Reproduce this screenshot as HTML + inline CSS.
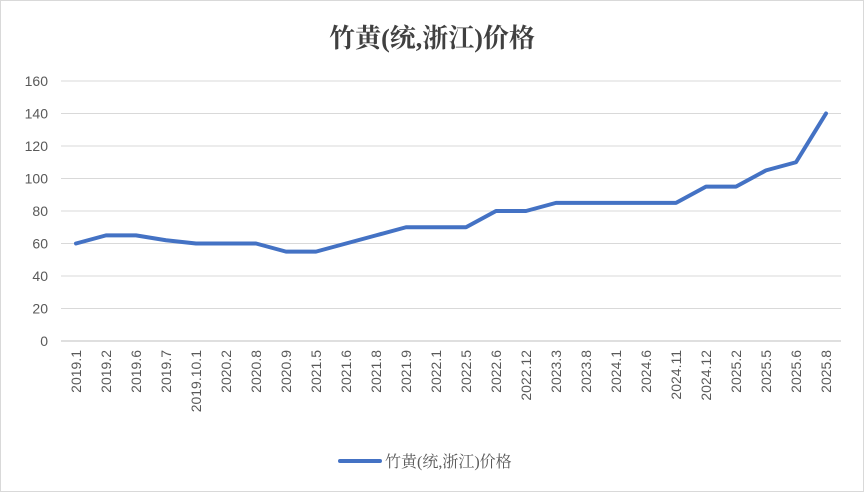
<!DOCTYPE html>
<html><head><meta charset="utf-8"><style>
body{margin:0;background:#fff;}
svg{display:block;font-family:"Liberation Sans","Noto Sans CJK SC",sans-serif;}
.serif{font-family:"Liberation Serif","Noto Serif CJK SC",serif;}
</style></head><body>
<svg width="864" height="492">
<rect x="0.5" y="0.5" width="863" height="491" fill="#fff" stroke="#d9d9d9"/>
<text class="serif" x="432" y="47" text-anchor="middle" font-size="26" font-weight="bold" fill="#404040">竹黄(统,浙江)价格</text>
<g id="grid"></g>
<g id="yt"></g>
<g id="xt"></g>
<path id="line" fill="none" stroke="#4472c4" stroke-width="4" stroke-linejoin="round" stroke-linecap="round"/>
<g>
<line x1="340" y1="461" x2="380" y2="461" stroke="#4472c4" stroke-width="4" stroke-linecap="round"/>
<text class="serif" x="385" y="467" font-size="16" fill="#595959">竹黄(统,浙江)价格</text>
</g>
</svg>
<script>
const categories=["2019.1","2019.2","2019.6","2019.7","2019.10.1","2020.2","2020.8","2020.9","2021.5","2021.6","2021.8","2021.9","2022.1","2022.5","2022.6","2022.12","2023.3","2023.8","2024.1","2024.6","2024.11","2024.12","2025.2","2025.5","2025.6","2025.8"];
const values=[60,65,65,62,60,60,60,55,55,60,65,70,70,70,80,80,85,85,85,85,85,95,95,105,110,140];
const yTicks=[0,20,40,60,80,100,120,140,160];
const NS="http://www.w3.org/2000/svg";
const left=61,right=841,y0=341,yTop=81,yMax=160;
const bw=(right-left)/categories.length;
const x=i=>left+bw*(i+0.5);
const y=v=>y0-(v/yMax)*(y0-yTop);
const grid=document.getElementById('grid'),yt=document.getElementById('yt'),xt=document.getElementById('xt');
yTicks.forEach(t=>{
 const l=document.createElementNS(NS,'line');
 
 
 l.setAttribute('x1',left);l.setAttribute('x2',right);l.setAttribute('y1',y(t));l.setAttribute('y2',y(t));
 l.setAttribute('stroke',t===0?'#bfbfbf':'#d9d9d9');l.setAttribute('stroke-width','1');
 grid.appendChild(l);
 const tx=document.createElementNS(NS,'text');
 
 
 tx.setAttribute('x',left-13);tx.setAttribute('y',y(t)+5);tx.setAttribute('text-anchor','end');
 tx.setAttribute('font-size','14');tx.setAttribute('fill','#595959');tx.textContent=t;
 yt.appendChild(tx);
});
categories.forEach((c,i)=>{
 const tx=document.createElementNS(NS,'text');
 
 
 const px=x(i)+5,py=350;
 tx.setAttribute('x',px);tx.setAttribute('y',py);tx.setAttribute('text-anchor','end');
 tx.setAttribute('transform',`rotate(-90 ${px} ${py})`);
 tx.setAttribute('font-size','14');tx.setAttribute('fill','#595959');tx.textContent=c;
 xt.appendChild(tx);
});
document.getElementById('line').setAttribute('d',values.map((v,i)=>(i?'L':'M')+x(i)+' '+y(v)).join(' '));
</script>
</body></html>
